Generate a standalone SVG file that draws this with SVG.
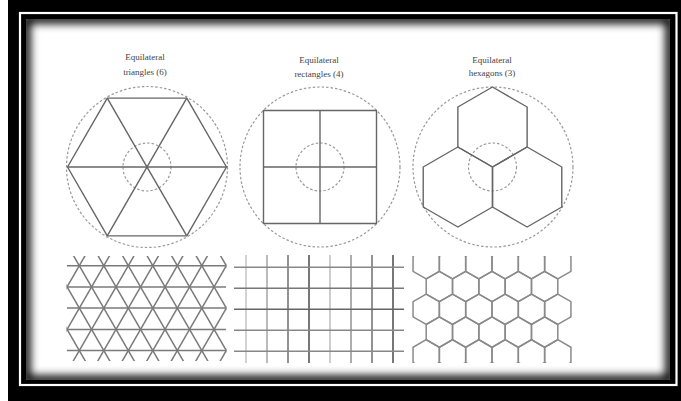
<svg xmlns="http://www.w3.org/2000/svg" xmlns:xlink="http://www.w3.org/1999/xlink" width="681" height="401" viewBox="0 0 681 401">
<style>
.lbl{font-family:"Liberation Serif","DejaVu Serif",serif;font-size:9px;fill:#444;text-anchor:middle}
.dash{fill:none;stroke:#9a9a9a;stroke-width:1.2;stroke-dasharray:2.5 2}
.fig{fill:none;stroke:#666;stroke-width:1.4;stroke-linejoin:round}
.tri line{stroke:#7a7a7a;stroke-width:1.5}
.sq line{stroke-width:1.6}
.hexg use{fill:none;stroke:#8a8a8a;stroke-width:1.5}
</style>
<defs>
<clipPath id="cContent"><rect x="26" y="19" width="644" height="361"/></clipPath>
<clipPath id="cTri"><rect x="66.5" y="256" width="160" height="105"/></clipPath>
<clipPath id="cHex"><rect x="400" y="256" width="180" height="107"/></clipPath>
<filter id="blur" x="-10%" y="-10%" width="120%" height="120%"><feGaussianBlur stdDeviation="4"/></filter>
<path id="hx" d="M0,-15.2 L13.16,-7.6 L13.16,7.6 L0,15.2 L-13.16,7.6 L-13.16,-7.6 Z"/>
</defs>

<g id="frame">
<rect x="0" y="0" width="681" height="401" fill="#fff"/>
<rect x="8" y="0" width="673" height="401" fill="#000"/>
<rect x="20" y="13" width="656.5" height="372" fill="none" stroke="#fff" stroke-width="2.2"/>
<rect x="26" y="19" width="644" height="361" fill="#fff"/>
<g clip-path="url(#cContent)">
<rect x="26" y="19" width="644" height="361" fill="none" stroke="#000" stroke-width="9" filter="url(#blur)"/>
</g>
</g>

<g id="labels">
<text class="lbl" x="145" y="60">Equilateral</text>
<text class="lbl" x="145" y="75">triangles (6)</text>
<text class="lbl" x="319" y="63">Equilateral</text>
<text class="lbl" x="319" y="77">rectangles (4)</text>
<text class="lbl" x="492" y="63">Equilateral</text>
<text class="lbl" x="492" y="76">hexagons (3)</text>
</g>

<g id="node-triangles">
<circle class="dash" cx="147" cy="167" r="80.5"/>
<circle class="dash" cx="147" cy="167" r="24"/>
<polygon class="fig" points="226.5,167 186.75,235.85 107.25,235.85 67.5,167 107.25,98.15 186.75,98.15"/>
<line class="fig" x1="67.5" y1="167" x2="226.5" y2="167"/>
<line class="fig" x1="107.25" y1="98.15" x2="186.75" y2="235.85"/>
<line class="fig" x1="186.75" y1="98.15" x2="107.25" y2="235.85"/>
</g>

<g id="node-squares">
<circle class="dash" cx="320" cy="167" r="80"/>
<circle class="dash" cx="320" cy="167" r="24"/>
<rect class="fig" x="263.5" y="110.5" width="113" height="113"/>
<line class="fig" x1="320" y1="110.5" x2="320" y2="223.5"/>
<line class="fig" x1="263.5" y1="167" x2="376.5" y2="167"/>
</g>

<g id="node-hexagons">
<circle class="dash" cx="493" cy="167" r="80"/>
<circle class="dash" cx="492.5" cy="167" r="24"/>
<polygon class="fig" points="492.5,87 527.14,107 527.14,147 492.5,167 457.86,147 457.86,107"/>
<polygon class="fig" points="457.86,147 492.5,167 492.5,207 457.86,227 423.22,207 423.22,167"/>
<polygon class="fig" points="527.14,147 561.78,167 561.78,207 527.14,227 492.5,207 492.5,167"/>
</g>

<g id="tiling-triangles" class="tri" clip-path="url(#cTri)">
<line x1="67" y1="265.7" x2="226" y2="265.7"/>
<line x1="67" y1="286.9" x2="226" y2="286.9"/>
<line x1="67" y1="308.1" x2="226" y2="308.1"/>
<line x1="67" y1="329.4" x2="226" y2="329.4"/>
<line x1="67" y1="350.6" x2="226" y2="350.6"/>
<line x1="18.35" y1="245" x2="93.4" y2="375"/>
<line x1="42.85" y1="245" x2="117.9" y2="375"/>
<line x1="67.35" y1="245" x2="142.4" y2="375"/>
<line x1="91.85" y1="245" x2="166.9" y2="375"/>
<line x1="116.35" y1="245" x2="191.4" y2="375"/>
<line x1="140.85" y1="245" x2="215.9" y2="375"/>
<line x1="165.35" y1="245" x2="240.4" y2="375"/>
<line x1="189.85" y1="245" x2="264.9" y2="375"/>
<line x1="214.35" y1="245" x2="289.4" y2="375"/>
<line x1="91.25" y1="245" x2="16.2" y2="375"/>
<line x1="115.75" y1="245" x2="40.7" y2="375"/>
<line x1="140.25" y1="245" x2="65.2" y2="375"/>
<line x1="164.75" y1="245" x2="89.7" y2="375"/>
<line x1="189.25" y1="245" x2="114.2" y2="375"/>
<line x1="213.75" y1="245" x2="138.7" y2="375"/>
<line x1="238.25" y1="245" x2="163.2" y2="375"/>
<line x1="262.75" y1="245" x2="187.7" y2="375"/>
<line x1="287.25" y1="245" x2="212.2" y2="375"/>
</g>

<g id="tiling-squares" class="sq">
<line x1="246" y1="255" x2="246" y2="363" stroke="#c8c8c8"/>
<line x1="267" y1="255" x2="267" y2="363" stroke="#aaa"/>
<line x1="288" y1="255" x2="288" y2="363" stroke="#777"/>
<line x1="309" y1="255" x2="309" y2="363" stroke="#555"/>
<line x1="330" y1="255" x2="330" y2="363" stroke="#c0c0c0"/>
<line x1="351" y1="255" x2="351" y2="363" stroke="#999"/>
<line x1="372" y1="255" x2="372" y2="363" stroke="#777"/>
<line x1="393" y1="255" x2="393" y2="363" stroke="#555"/>
<line x1="234" y1="267.3" x2="404" y2="267.3" stroke="#888"/>
<line x1="234" y1="288.3" x2="404" y2="288.3" stroke="#777"/>
<line x1="234" y1="309.3" x2="404" y2="309.3" stroke="#666"/>
<line x1="234" y1="330.3" x2="404" y2="330.3" stroke="#888"/>
<line x1="234" y1="351.3" x2="404" y2="351.3" stroke="#888"/>
</g>

<g id="tiling-hexagons" class="hexg" clip-path="url(#cHex)">
<use xlink:href="#hx" x="426.2" y="263.7"/>
<use xlink:href="#hx" x="452.52" y="263.7"/>
<use xlink:href="#hx" x="478.84" y="263.7"/>
<use xlink:href="#hx" x="505.16" y="263.7"/>
<use xlink:href="#hx" x="531.48" y="263.7"/>
<use xlink:href="#hx" x="557.8" y="263.7"/>
<use xlink:href="#hx" x="439.36" y="286.5"/>
<use xlink:href="#hx" x="465.68" y="286.5"/>
<use xlink:href="#hx" x="492" y="286.5"/>
<use xlink:href="#hx" x="518.32" y="286.5"/>
<use xlink:href="#hx" x="544.64" y="286.5"/>
<use xlink:href="#hx" x="426.2" y="309.3"/>
<use xlink:href="#hx" x="452.52" y="309.3"/>
<use xlink:href="#hx" x="478.84" y="309.3"/>
<use xlink:href="#hx" x="505.16" y="309.3"/>
<use xlink:href="#hx" x="531.48" y="309.3"/>
<use xlink:href="#hx" x="557.8" y="309.3"/>
<use xlink:href="#hx" x="439.36" y="332.1"/>
<use xlink:href="#hx" x="465.68" y="332.1"/>
<use xlink:href="#hx" x="492" y="332.1"/>
<use xlink:href="#hx" x="518.32" y="332.1"/>
<use xlink:href="#hx" x="544.64" y="332.1"/>
<use xlink:href="#hx" x="426.2" y="354.9"/>
<use xlink:href="#hx" x="452.52" y="354.9"/>
<use xlink:href="#hx" x="478.84" y="354.9"/>
<use xlink:href="#hx" x="505.16" y="354.9"/>
<use xlink:href="#hx" x="531.48" y="354.9"/>
<use xlink:href="#hx" x="557.8" y="354.9"/>
</g>
</svg>
